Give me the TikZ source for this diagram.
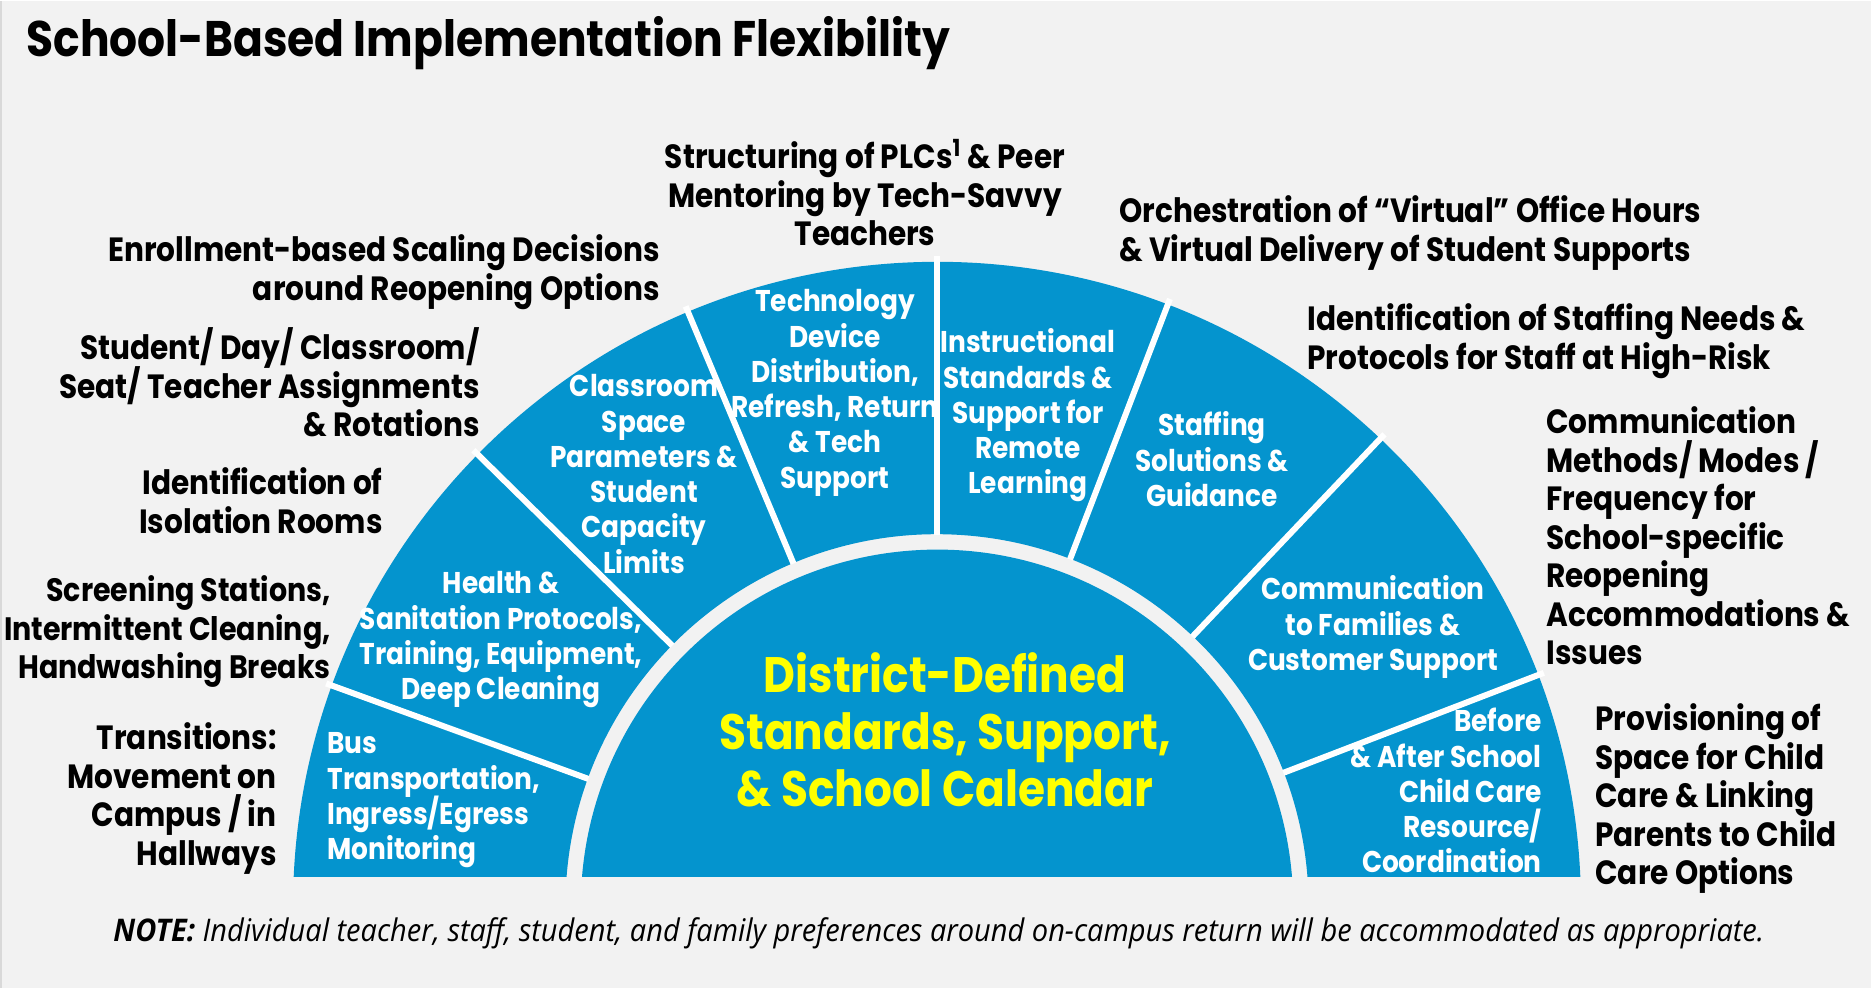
\documentclass[tikz,border=0pt]{standalone}
\usepackage{fontspec}
\setmainfont{Poppins}[FakeStretch=0.88]
\newfontfamily\notefont{Open Sans}[FakeStretch=0.93]
\usetikzlibrary{calc}
\definecolor{bgcol}{HTML}{F2F2F2}
\definecolor{ringblue}{HTML}{0494CE}
\definecolor{hubyellow}{HTML}{FFFF00}
\newcommand{\lblfont}{\fontsize{16.8}{19.25}\selectfont\bfseries\lineskiplimit=-20pt}
\newcommand{\narrowlblfont}{\fontsize{16.2}{19.25}\selectfont\bfseries\lineskiplimit=-20pt}
\newcommand{\wedgefont}{\fontsize{15}{17.65}\selectfont\bfseries\lineskiplimit=-20pt}
\newcommand{\hubfont}{\fontsize{24.9}{28.35}\selectfont\bfseries\lineskiplimit=-20pt}

\begin{document}
\begin{tikzpicture}[x=0.5pt, y=0.5pt,
  outlbl/.style={font=\lblfont, text=black, inner sep=0pt},
  wedgetxt/.style={font=\wedgefont, text=white, inner sep=0pt},
  divider/.style={white, line width=3pt}
]
  % canvas
  \fill[bgcol] (0,0) rectangle (1871,987);
  \draw[black!15, line width=0.8pt] (1,0) -- (1,987);
  \useasboundingbox (0,0) rectangle (1871,987);
  \coordinate (c) at (937,82);

  % outer ring and hub
  \fill[ringblue] ($(c)+(2.58:644)$) arc[start angle=2.58, end angle=177.42, radius=644]
    -- ($(c)+(175.52:371.6)$) arc[start angle=175.52, end angle=4.48, radius=371.6] -- cycle;
  \fill[ringblue] ($(c)+(4.67:356.2)$) arc[start angle=4.67, end angle=175.33, radius=356.2] -- cycle;

  % title
  \node[font=\fontsize{25}{30}\selectfont\bfseries, anchor=base west, inner sep=0pt] (title) at (26,931) {School-Based Implementation Flexibility};

  % hub text (anchored at the last line)
  \node[font=\hubfont, text=hubyellow, align=center, anchor=base, inner sep=0pt] (district) at (945,181.6) {District-Defined\\Standards, Support,\\\& School Calendar};

  % ring segments
  \node[wedgetxt, align=left, anchor=base west] (bus) at (327,128.1) {Bus\\Transportation,\\Ingress/Egress\\Monitoring};
  \node[wedgetxt, align=center, anchor=base] (health) at (501,288.1) {Health \&\\Sanitation Protocols,\\Training, Equipment,\\Deep Cleaning};
  \node[wedgetxt, align=center, anchor=base] (classrm) at (644,414.5) {Classroom\\Space\\Parameters \&\\Student\\Capacity\\Limits};
  \node[wedgetxt, align=center, anchor=base] (tech) at (835,499.5) {Technology\\Device\\Distribution,\\Refresh, Return\\\& Tech\\Support};
  \node[wedgetxt, align=center, anchor=base] (instr) at (1028,493.8) {Instructional\\Standards \&\\Support for\\Remote\\Learning};
  \node[wedgetxt, align=center, anchor=base] (staffing) at (1212,481.4) {Staffing\\Solutions \&\\Guidance};
  \node[wedgetxt, align=center, anchor=base] (commfam) at (1373,317.4) {Communication\\to Families \&\\Customer Support};
  \node[wedgetxt, align=right, anchor=base east] (beforeafter) at (1542,114.8) {Before\\\& After School\\Child Care\\Resource/\\Coordination};

  \foreach \a in {160,135.5,112.75,90,69,46.5,21}
    \draw[divider] ($(c)+(\a:371)$) -- ($(c)+(\a:650)$);

  % school-level items (anchored at the last line)
  \node[outlbl, align=center, anchor=base] (plc) at (865,742) {Structuring of PLCs\textsuperscript{1} \& Peer\\Mentoring by Tech-Savvy\\Teachers};
  \node[outlbl, align=left, anchor=base west] (virtual) at (1119,726.5) {Orchestration of “Virtual” Office Hours\\\& Virtual Delivery of Student Supports};
  \node[outlbl, align=left, anchor=base west] (staffneed) at (1307,618.5) {Identification of Staffing Needs \&\\Protocols for Staff at High-Risk};
  \node[outlbl, align=left, anchor=base west] (commmeth) at (1546,323) {Communication\\Methods/ Modes /\\Frequency for\\School-specific\\Reopening\\Accommodations \&\\Issues};
  \node[outlbl, align=left, anchor=base west] (provision) at (1595,103) {Provisioning of\\Space for Child\\Care \& Linking\\Parents to Child\\Care Options};
  \node[outlbl, align=right, anchor=base east] (enroll) at (660,687.5) {Enrollment-based Scaling Decisions\\around Reopening Options};
  \node[outlbl, align=right, anchor=base east] (assign) at (480,551) {Student/ Day/ Classroom/\\Seat/ Teacher Assignments\\\& Rotations};
  \node[outlbl, align=right, anchor=base east] (isolate) at (383,454.5) {Identification of\\Isolation Rooms};
  \node[outlbl, font=\narrowlblfont, align=right, anchor=base east] (screen) at (331,309) {Screening Stations,\\Intermittent Cleaning,\\Handwashing Breaks};
  \node[outlbl, align=right, anchor=base east] (transit) at (277,122.5) {Transitions:\\Movement on\\Campus / in\\Hallways};

  % footnote
  \node[font=\fontsize{15.6}{18}\selectfont\notefont\itshape, anchor=base west, inner sep=0pt] (note) at (113,46) {\textbf{NOTE:} Individual teacher, staff, student, and family preferences around on-campus return will be accommodated as appropriate.};
\end{tikzpicture}
\end{document}
